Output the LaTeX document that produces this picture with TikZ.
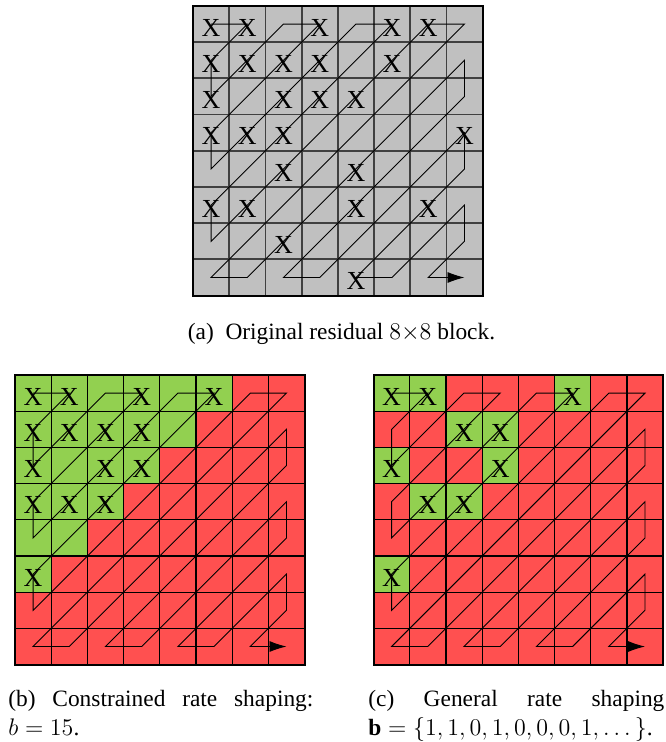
\documentclass[tikz,border=0pt]{standalone}
\usepackage{fontspec}
\setmainfont{Liberation Serif}
\usepackage{amsmath,amssymb}
\usetikzlibrary{arrows.meta}
\definecolor{BlockGray}{HTML}{C0C0C0}
\definecolor{KeepGreen}{HTML}{92D050}
\definecolor{DropRed}{HTML}{FF5050}
\newcommand{\capfont}{\fontsize{11.7pt}{14.5pt}\selectfont}

\tikzset{
  cellline/.style={black,line width=0.6pt},
  blockframe/.style={black,line width=1pt},
  xmark/.style={inner sep=0pt,font=\fontsize{13pt}{15pt}\selectfont},
  caption/.style={inner sep=0pt,align=left,text width=152.5pt}
}
% zig-zag scan over the 8x8 cells, in cell units
\newcommand{\zigzagscan}{%
  \draw[->,black,line width=0.45pt,shift={(0.5,0.5)}]
    (0,0)--(1,0)--(0,1)--(0,2)--(2,0)--(3,0)--(0,3)--(0,4)--(4,0)--(5,0)
    --(0,5)--(0,6)--(6,0)--(7,0)--(0,7)--(1,7)--(7,1)--(7,2)--(2,7)--(3,7)
    --(7,3)--(7,4)--(4,7)--(5,7)--(7,5)--(7,6)--(6,7)--(7,7);}
\newcommand{\cellgrid}[1][]{%
  \foreach \k in {1,...,7}
    \draw[cellline,#1] (\k,0)--(\k,8) (0,\k)--(8,\k);}

\begin{document}
\begin{tikzpicture}[>={Latex[length=8.5pt,width=5.5pt]},x=0.5pt,y=-0.5pt,font=\capfont]
  \useasboundingbox (0,0) rectangle (665,742);

  % (a) original block
  \begin{scope}[shift={(193,6)},x=18.1pt,y=-18.1pt]
    \fill[BlockGray] (0,0) rectangle (8,8);
    \cellgrid[black!75,line width=0.9pt]
    \zigzagscan
    \foreach \c/\r in {0/0,1/0,3/0,5/0,6/0,0/1,1/1,2/1,3/1,5/1,0/2,2/2,3/2,4/2,
                       0/3,1/3,2/3,7/3,2/4,4/4,0/5,1/5,4/5,6/5,2/6,4/7}
      \node[xmark] (xa-\c-\r) at (\c+.5,\r+.6) {X};
    \draw[blockframe] (0,0) rectangle (8,8);
  \end{scope}
  \node[anchor=base,inner sep=0pt] (capa) at (341.5,339)
    {(a)\enspace Original residual $8{\times}8$ block.};

  % (b) constrained rate shaping
  \begin{scope}[shift={(15,375)},x=18.1pt,y=-18.1pt]
    \fill[DropRed] (0,0) rectangle (8,8);
    \foreach \r in {0,...,5}
      \fill[KeepGreen] (0,\r) rectangle ({6-\r},\r+1);
    \cellgrid
    \zigzagscan
    \foreach \c/\r in {0/0,1/0,3/0,5/0,0/1,1/1,2/1,3/1,0/2,2/2,3/2,0/3,1/3,2/3,0/5}
      \node[xmark] (xb-\c-\r) at (\c+.5,\r+.6) {X};
    \draw[blockframe] (0,0) rectangle (8,8);
  \end{scope}
  \node[caption,anchor=base west] (capb) at (8,706)
    {\makebox[152.5pt][s]{(b)\hfill\ Constrained\hfill\ rate\hfill\ shaping:}\\ $b=15$.};

  % (c) general rate shaping
  \begin{scope}[shift={(373.5,375)},x=18.1pt,y=-18.1pt]
    \fill[DropRed] (0,0) rectangle (8,8);
    \foreach \c/\r in {0/0,1/0,5/0,2/1,3/1,0/2,3/2,1/3,2/3,0/5}
      \fill[KeepGreen] (\c,\r) rectangle +(1,1);
    \cellgrid
    \zigzagscan
    \foreach \c/\r in {0/0,1/0,5/0,2/1,3/1,0/2,3/2,1/3,2/3,0/5}
      \node[xmark] (xc-\c-\r) at (\c+.5,\r+.6) {X};
    \draw[blockframe] (0,0) rectangle (8,8);
  \end{scope}
  \node[caption,anchor=base west,text width=148pt] (capc) at (368,706)
    {\makebox[148pt][s]{(c)\hfill\ General\hfill\ rate\hfill\ shaping}\\
     $\mathbf{b}=\{1,1,0,1,0,0,0,1,\dots\}$.};
\end{tikzpicture}
\end{document}
